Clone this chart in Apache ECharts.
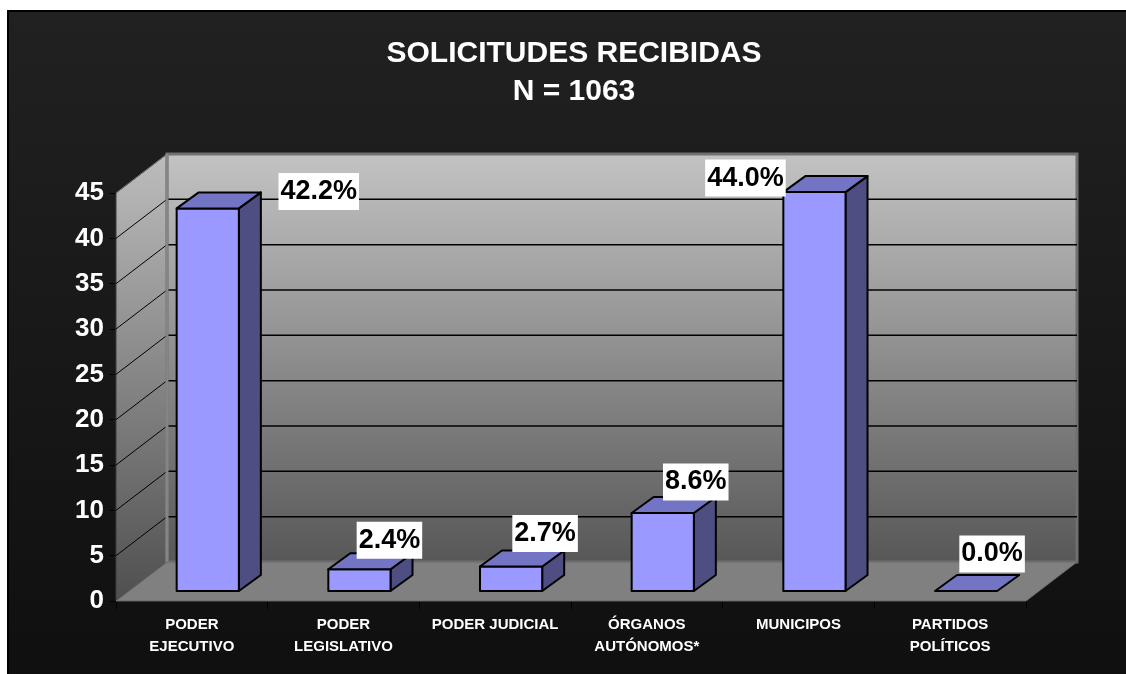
<!DOCTYPE html>
<html>
<head>
<meta charset="utf-8">
<script src="https://cdn.jsdelivr.net/npm/echarts@6/dist/echarts.min.js"></script>
<style>
  html, body { margin: 0; padding: 0; background: #fff; }
  #chart { width: 1126px; height: 674px; }
</style>
</head>
<body>
<div id="chart"></div>
<script>
// datos del grafico
const categories = ['PODER\nEJECUTIVO', 'PODER\nLEGISLATIVO', 'PODER JUDICIAL', 'ÓRGANOS\nAUTÓNOMOS*', 'MUNICIPOS', 'PARTIDOS\nPOLÍTICOS'];
const values = [42.2, 2.4, 2.7, 8.6, 44.0, 0.0];
const yTicks = [0, 5, 10, 15, 20, 25, 30, 35, 40, 45];
const titleLines = ['SOLICITUDES RECIBIDAS', 'N = 1063'];

// profundidad del efecto 3D (px)
const DX = 51, DY = -39;        // fondo del piso / pared
const BX = 13, BY = -10;        // plano frontal de las barras
const BDX = 22, BDY = -16;      // grosor de la barra
// desplazamiento de las etiquetas respecto al centro superior de la barra
const labelShift = [[111, -17], [30, -29], [34, -33], [33, -31], [-69, -14], [26, -37]];

const FONT = '"Liberation Sans", Arial, sans-serif';
const chart = echarts.init(document.getElementById('chart'));

const renderScene = (params, api) => {
  const bw = api.size([1, 0])[0];
  const x0 = api.coord([0, 0])[0] - bw / 2;
  const x1 = api.coord([categories.length - 1, 0])[0] + bw / 2;
  const yBot = api.coord([0, yTicks[0]])[1];
  const yTop = api.coord([0, yTicks[yTicks.length - 1]])[1];
  const children = [];

  // pared lateral
  children.push({
    type: 'polygon',
    shape: { points: [[x0, yBot], [x0, yTop], [x0 + DX, yTop + DY], [x0 + DX, yBot + DY]] },
    style: {
      fill: new echarts.graphic.LinearGradient(0, 0, 0, 1, [
        { offset: 0, color: '#bdbdbd' }, { offset: 1, color: '#4f4f4f' }
      ]),
      stroke: '#3c3c3c', lineWidth: 1
    }
  });
  // pared del fondo
  children.push({
    type: 'rect',
    shape: { x: x0 + DX, y: yTop + DY, width: x1 - x0, height: yBot - yTop },
    style: {
      fill: new echarts.graphic.LinearGradient(0, 0, 0, 1, [
        { offset: 0, color: '#c3c3c3' }, { offset: 1, color: '#575757' }
      ]),
      stroke: '#707070', lineWidth: 3
    }
  });
  // lineas de division
  yTicks.slice(1, -1).forEach(v => {
    const y = api.coord([0, v])[1];
    children.push({
      type: 'line',
      shape: { x1: x0 + DX, y1: y + DY, x2: x1 + DX, y2: y + DY },
      style: { stroke: '#000', lineWidth: 1.5 }
    });
  });
  yTicks.slice(1).forEach(v => {
    const y = api.coord([0, v])[1];
    children.push({
      type: 'line',
      shape: { x1: x0, y1: y, x2: x0 + DX, y2: y + DY },
      style: { stroke: v === yTicks[yTicks.length - 1] ? '#707070' : '#000', lineWidth: 1 }
    });
  });
  // esquina
  children.push({
    type: 'line',
    shape: { x1: x0 + DX, y1: yTop + DY, x2: x0 + DX, y2: yBot + DY },
    style: { stroke: '#858585', lineWidth: 3 }
  });
  // piso
  children.push({
    type: 'polygon',
    shape: { points: [[x0, yBot], [x1, yBot], [x1 + DX, yBot + DY], [x0 + DX, yBot + DY]] },
    style: { fill: '#808080', stroke: '#6a6a6a', lineWidth: 1 }
  });
  return { type: 'group', children };
};

const renderBar = (params, api) => {
  const i = api.value(0);
  const v = api.value(1);
  const bw = api.size([1, 0])[0];
  const c = api.coord([i, v]);
  const base = api.coord([i, 0]);
  const w = bw * 0.41;
  const l = base[0] - bw / 2 + bw * 0.40;
  const r = l + w;
  const yb = base[1] + BY;
  const yt = c[1] + BY;
  const line = { stroke: '#000', lineWidth: 2, lineJoin: 'round' };
  const children = [];
  if (v > 0) {
    children.push({
      type: 'polygon',
      shape: { points: [[r, yt], [r + BDX, yt + BDY], [r + BDX, yb + BDY], [r, yb]] },
      style: Object.assign({ fill: '#4e4e82' }, line)
    });
    children.push({
      type: 'rect',
      shape: { x: l, y: yt, width: w, height: yb - yt },
      style: Object.assign({ fill: '#9999ff' }, line)
    });
  }
  children.push({
    type: 'polygon',
    shape: { points: [[l, yt], [l + BDX, yt + BDY], [r + BDX, yt + BDY], [r, yt]] },
    style: Object.assign({ fill: '#7474c4' }, line)
  });
  const s = labelShift[params.dataIndex];
  children.push({
    type: 'text',
    z2: 10,
    style: {
      text: v.toFixed(1) + '%',
      x: (l + r) / 2 + s[0],
      y: yt + s[1],
      align: 'center',
      verticalAlign: 'middle',
      fill: '#000',
      font: 'bold 27px ' + FONT,
      backgroundColor: '#fff',
      padding: [6, 2, 4, 2]
    }
  });
  return { type: 'group', children };
};

chart.setOption({
  backgroundColor: '#fff',
  animation: false,
  title: {
    text: titleLines.join('\n'),
    left: 569,
    textAlign: 'center',
    top: 30,
    textStyle: { color: '#fff', fontSize: 30, fontWeight: 'bold', fontFamily: FONT, lineHeight: 38 }
  },
  graphic: [{
    type: 'rect',
    z: -10,
    silent: true,
    shape: { x: 8, y: 11, width: 1130, height: 680 },
    style: {
      fill: new echarts.graphic.LinearGradient(0, 0, 0, 1, [
        { offset: 0, color: '#212121' }, { offset: 1, color: '#0f0f0f' }
      ]),
      stroke: '#000', lineWidth: 2
    }
  }],
  grid: { left: 116, right: 100, top: 193, bottom: 73 },
  xAxis: {
    type: 'category',
    data: categories,
    axisLine: { show: true, lineStyle: { color: '#000', width: 1 } },
    axisTick: { show: true, lineStyle: { color: '#000' }, length: 8 },
    axisLabel: {
      color: '#fff', fontSize: 15, fontWeight: 'bold', fontFamily: FONT,
      lineHeight: 22, margin: 13, interval: 0
    },
    splitLine: { show: false }
  },
  yAxis: {
    type: 'value',
    min: 0, max: 45, interval: 5,
    axisLine: { show: true, lineStyle: { color: '#000', width: 1 } },
    axisTick: { show: true, lineStyle: { color: '#000' }, length: 6 },
    axisLabel: { color: '#fff', fontSize: 26, fontWeight: 'bold', fontFamily: FONT, margin: 12 },
    splitLine: { show: false }
  },
  series: [
    {
      type: 'custom',
      z: 1,
      silent: true,
      renderItem: renderScene,
      data: [[0, 0]]
    },
    {
      type: 'custom',
      z: 3,
      renderItem: renderBar,
      encode: { x: 0, y: 1 },
      data: values.map((v, i) => [i, v])
    }
  ]
});
</script>
</body>
</html>
